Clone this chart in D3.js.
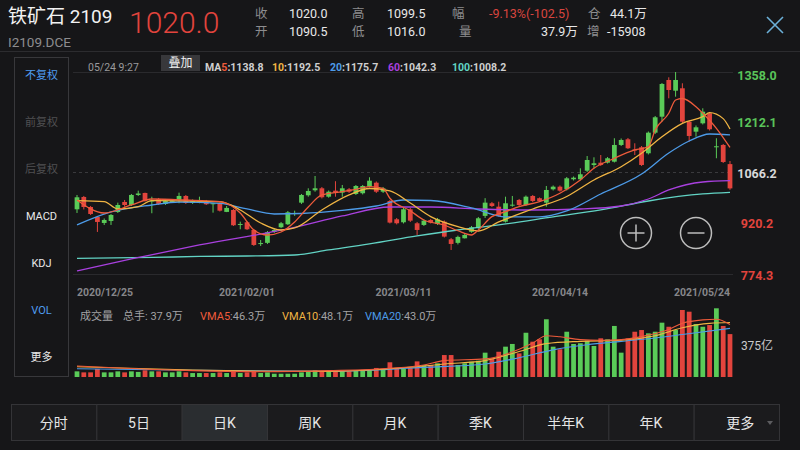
<!DOCTYPE html>
<html lang="zh-CN">
<head>
<meta charset="UTF-8">
<title>铁矿石2109 日K</title>
<script src="https://d3js.org/d3.v7.min.js"></script>
<style>
  body { margin: 0; background: #161618; }
  svg { display: block; font-family: Roboto, "Noto Sans CJK SC", sans-serif; }
</style>
</head>
<body>
<svg id="chart" width="800" height="450"></svg>
<script>
// 交易日
const dates = [
  "2020/12/25","2020/12/28","2020/12/29","2020/12/30","2020/12/31",
  "2021/01/04","2021/01/05","2021/01/06","2021/01/07","2021/01/08",
  "2021/01/11","2021/01/12","2021/01/13","2021/01/14","2021/01/15",
  "2021/01/18","2021/01/19","2021/01/20","2021/01/21","2021/01/22",
  "2021/01/25","2021/01/26","2021/01/27","2021/01/28","2021/01/29",
  "2021/02/01","2021/02/02","2021/02/03","2021/02/04","2021/02/05",
  "2021/02/08","2021/02/09","2021/02/10","2021/02/18","2021/02/19",
  "2021/02/22","2021/02/23","2021/02/24","2021/02/25","2021/02/26",
  "2021/03/01","2021/03/02","2021/03/03","2021/03/04","2021/03/05",
  "2021/03/08","2021/03/09","2021/03/10","2021/03/11","2021/03/12",
  "2021/03/15","2021/03/16","2021/03/17","2021/03/18","2021/03/19",
  "2021/03/22","2021/03/23","2021/03/24","2021/03/25","2021/03/26",
  "2021/03/29","2021/03/30","2021/03/31","2021/04/01","2021/04/02",
  "2021/04/06","2021/04/07","2021/04/08","2021/04/09",
  "2021/04/12","2021/04/13","2021/04/14","2021/04/15","2021/04/16",
  "2021/04/19","2021/04/20","2021/04/21","2021/04/22","2021/04/23",
  "2021/04/26","2021/04/27","2021/04/28","2021/04/29","2021/04/30",
  "2021/05/06","2021/05/07",
  "2021/05/10","2021/05/11","2021/05/12","2021/05/13","2021/05/14",
  "2021/05/17","2021/05/18","2021/05/19","2021/05/20","2021/05/21",
  "2021/05/24"
];

const open = [959.3,995.1,966.0,937.0,919.6,925.4,951.5,980.6,971.8,1000.9,
  1006.7,982.0,989.3,974.8,980.6,986.4,998.0,977.6,980.6,981.4,
  974.8,976.8,951.7,957.3,913.8,921.6,899.3,858.3,861.8,893.5,
  907.1,915.8,945.7,978.6,1000.0,1014.5,1020.3,995.9,1013.4,1007.6,
  1017.4,1003.8,1005.9,1025.0,1036.6,1010.4,983.5,930.3,921.6,959.3,
  918.7,913.8,928.3,916.7,923.4,872.2,861.8,875.1,893.8,905.2,
  940.2,976.8,966.9,923.4,970.3,986.4,971.8,998.0,991.5,978.6,
  1017.4,1025.0,1017.4,1046.5,1046.5,1071.4,1088.0,1094.7,1094.7,1097.6,
  1146.1,1162.6,1133.0,1139.4,1122.0,1181.8,1228.2,1334.8,1303.7,1310.7,
  1213.7,1184.7,1209.0,1238.1,1139.4,1146.1,1090.5];
const high = [1000.9,998.0,968.9,939.9,932.7,945.7,978.6,986.4,1003.8,1013.4,
  1007.6,995.9,992.2,989.3,987.8,1007.6,1000.9,987.8,995.9,986.4,
  977.6,979.2,968.9,960.2,923.4,925.4,902.2,870.2,896.2,902.2,
  922.5,954.4,955.3,1003.8,1020.3,1056.0,1024.1,1013.9,1040.8,1029.9,
  1021.2,1029.9,1029.9,1052.3,1040.1,1024.1,986.4,934.1,963.1,963.1,
  922.5,929.8,931.2,934.1,926.9,876.0,882.8,887.7,910.9,937.0,
  991.6,980.6,981.4,995.9,998.0,989.3,999.4,1000.9,993.7,1027.0,
  1028.5,1028.5,1053.1,1054.6,1078.4,1114.1,1110.3,1117.0,1111.2,1165.6,
  1165.0,1166.4,1151.0,1143.1,1185.2,1230.2,1326.1,1342.6,1358.0,1325.2,
  1217.2,1202.7,1252.6,1241.9,1165.6,1148.9,1099.5];
const low = [948.6,958.8,942.8,893.5,913.8,913.8,948.6,966.9,968.9,998.0,
  981.4,947.8,971.8,971.8,977.6,976.8,974.8,974.8,976.8,971.8,
  949.5,952.9,951.1,910.9,901.3,899.3,852.8,852.8,858.6,890.6,
  904.6,913.8,940.2,974.8,995.9,1010.4,990.7,993.0,995.9,995.9,
  1006.7,1000.9,1002.4,1022.7,1006.7,1006.7,918.1,915.3,918.1,922.5,
  884.8,910.9,918.1,913.8,877.5,841.2,857.2,874.6,891.3,902.2,
  934.1,966.0,937.8,920.9,966.9,968.9,968.9,980.6,980.6,966.9,
  1013.9,1010.4,1013.9,1043.0,1043.0,1067.6,1078.4,1085.1,1092.3,1095.2,
  1143.1,1134.4,1117.0,1085.1,1118.5,1178.0,1213.7,1281.6,1286.3,1209.9,
  1155.6,1170.1,1205.6,1188.1,1107.5,1093.8,1016.0];
const close = [994.2,966.0,945.7,922.5,928.3,942.8,971.8,971.8,1000.9,1005.2,
  983.5,984.9,974.8,983.5,984.4,998.0,977.6,983.5,982.0,973.9,
  976.8,955.3,963.3,912.9,916.7,901.3,855.7,861.2,892.8,899.3,
  918.7,950.6,948.6,1000.9,1012.5,1020.3,994.2,1010.4,1007.6,1020.3,
  1010.4,1027.0,1027.0,1042.4,1010.4,1020.3,920.7,918.7,959.3,926.3,
  899.3,926.3,920.7,930.3,880.0,858.6,879.1,884.8,907.1,933.2,
  978.6,968.9,940.2,976.8,972.7,971.8,995.9,983.5,983.5,1015.4,
  1025.0,1013.4,1049.3,1051.1,1061.0,1102.5,1092.9,1088.0,1107.5,1146.1,
  1160.6,1136.5,1130.1,1088.0,1181.8,1226.5,1323.2,1305.7,1334.8,1213.7,
  1172.2,1197.4,1242.7,1191.6,1142.3,1096.7,1020.0];

// 成交量（万手）
const volume = [5.0,4.1,4.1,7.1,4.1,4.1,5.0,4.1,5.0,4.5,
  5.9,5.0,5.0,4.1,4.1,5.0,4.1,3.5,3.5,3.5,
  3.5,4.1,3.5,5.0,3.5,4.1,5.0,3.5,4.1,2.9,
  2.9,2.9,2.9,4.1,5.0,5.9,5.0,5.0,5.0,5.0,
  5.0,5.9,5.9,5.9,8.0,6.5,13.0,8.0,7.1,8.0,
  13.8,10.6,10.6,12.1,19.4,19.4,10.6,12.1,13.5,14.4,
  21.5,16.5,22.3,26.8,29.2,20.9,39.1,31.2,33.3,51.0,
  26.8,24.5,40.0,29.2,29.8,32.1,27.4,34.2,33.3,45.1,
  21.5,34.2,40.0,41.5,38.6,40.0,48.0,44.4,41.5,59.2,
  57.7,46.8,44.4,45.9,60.7,45.1,37.9];

// 均线 [交易日序号, 数值]
const ma5 = [[0,986.3],[4,948.6],[8,972],[11,989.2],[16,986.3],[21,981.4],[24,948.6],[26,899.2],
  [28,884.7],[30,893.4],[32,922.5],[34,966],[36,1000.9],[39,1010.4],[41,1017.4],[43,1025],
  [45,1020.3],[46,991.3],[49,955],[51,928.3],[54,913.7],[56,897],[58,884.7],[59,899.2],
  [61,937.9],[63,952.4],[65,966.9],[68,981.4],[71,1005.8],[74,1044.4],[76,1078.4],[79,1107.4],
  [82,1131.5],[84,1141.1],[85,1189.6],[87,1238.1],[88,1276.7],[89,1281.1],[91,1257.2],[92,1238.1],
  [94,1194.5],[96,1138.8]];
const ma10 = [[0,984.3],[4,981.4],[6,960.2],[9,966.9],[11,984.3],[21,981.4],[24,957.3],[27,919.6],
  [30,899.2],[32,905],[36,957.3],[40,1000.9],[43,1019.7],[46,1012.5],[49,977.6],[52,937.9],
  [56,908.8],[59,896.3],[62,922.5],[67,960.2],[72,996.5],[76,1044.4],[80,1083],[83,1121.9],
  [86,1170.1],[89,1209],[92,1228.2],[93,1239.8],[95,1222.6],[96,1192.5]];
const ma20 = [[0,913.8],[5,951.5],[11,971.8],[15,980.5],[21,976.2],[25,960.2],[29,945.7],[33,947.1],
  [39,955.9],[44,968.9],[48,986.3],[52,984.9],[58,963.1],[63,937],[68,937],[72,954.4],
  [77,1003.8],[83,1061.8],[87,1122.8],[90,1157.7],[93,1178],[96,1175.7]];
const ma60 = [[0,780.2],[8,815],[18,855.7],[32,906.5],[39,939.9],[46,966],[52,966],[59,960.2],
  [67,957.3],[74,960.2],[80,968.9],[84,989.2],[87,1015.4],[92,1038.6],[96,1042.3]];
const ma100 = [[0,816.5],[11,819.4],[18,822.3],[25,823.7],[32,826.6],[37,841.2],[43,858.6],[50,881.8],
  [56,899.2],[62,913.8],[70,937],[77,957.3],[84,983.4],[92,1003.8],[96,1008.2]];

const vma5 = [[0,9.7],[7,7.7],[17,5.6],[27,4.7],[37,5.6],[46,7.7],[51,10.6],[54,14.5],[60,16],
  [65,24.5],[67,30],[69,36.5],[71,35.5],[74,33],[77,32.5],[80,33],[84,37],[87,42],[89,47.5],
  [92,50.5],[94,51],[96,46.3]];
const vma10 = [[0,9.1],[17,6.2],[37,5.0],[51,9.7],[54,11.5],[60,14.5],[65,22.5],[69,29.5],[74,31.5],
  [80,32.5],[85,36.5],[89,43.5],[93,47.4],[96,48.1]];
const vma20 = [[0,7.3],[17,5.9],[37,5.0],[51,8.5],[60,11.5],[65,17.0],[70,24.0],[75,28.5],[80,31.5],
  [85,34.5],[89,37.5],[96,43.0]];

const priceTicks = [1358.0, 1212.1, 1066.2, 920.2, 774.3];
const dateTicks = ["2020/12/25", "2021/02/01", "2021/03/11", "2021/04/14", "2021/05/24"];
const sideItems = ["不复权", "前复权", "后复权", "MACD", "KDJ", "VOL", "更多"];
const tabs = ["分时", "5日", "日K", "周K", "月K", "季K", "半年K", "年K", "更多"];

const UP = "#5acb58", DOWN = "#e2443d";
const GREY = "#8d8d8f", WHITE = "#e8e8e8";

const svg = d3.select("#chart");

// ---- 顶部行情 ----
const head = svg.append("g");
head.append("text").attr("x", 8).attr("y", 23).attr("fill", "#f2f2f2")
  .style("font-size", "19px").text("铁矿石 2109");
head.append("text").attr("x", 8).attr("y", 46.5).attr("fill", GREY)
  .style("font-size", "13.5px").text("I2109.DCE");
head.append("text").attr("x", 129).attr("y", 33).attr("fill", DOWN)
  .style("font-size", "30px").style("font-weight", 300).text("1020.0");

const quote = [
  ["收", 255, 18, "1020.0", 289, WHITE], ["高", 352, 18, "1099.5", 387, WHITE],
  ["幅", 452, 18, "-9.13%(-102.5)", 489, "#d8453f"], ["仓", 588, 18, "44.1万", 610, WHITE],
  ["开", 255, 36, "1090.5", 289, WHITE], ["低", 352, 36, "1016.0", 387, WHITE],
  ["量", 459, 36, "37.9万", 541, WHITE], ["增", 587, 36, "-15908", 607, WHITE]
];
quote.forEach(([lab, lx, ly, val, vx, col]) => {
  head.append("text").attr("x", lx).attr("y", ly).attr("fill", GREY).style("font-size", "12.5px").text(lab);
  head.append("text").attr("x", vx).attr("y", ly).attr("fill", col).style("font-size", "12.5px").text(val);
});

// 关闭按钮
head.append("path").attr("d", "M767,17L783,33M783,17L767,33")
  .attr("stroke", "#6cb0d8").attr("stroke-width", 1.6).attr("fill", "none");

svg.append("line").attr("x1", 0).attr("x2", 800).attr("y1", 51.5).attr("y2", 51.5)
  .attr("stroke", "#2c2c2f");

// ---- 左侧菜单 ----
svg.append("rect").attr("x", 14.5).attr("y", 57.5).attr("width", 54).attr("height", 319)
  .attr("fill", "none").attr("stroke", "#38383b");
svg.append("g").selectAll("text").data(sideItems).join("text")
  .attr("x", 41.5).attr("y", (d, i) => 75 + i * 47)
  .attr("text-anchor", "middle").attr("dominant-baseline", "central")
  .style("font-size", "11px")
  .attr("fill", (d, i) => (i === 0 || i === 5) ? "#4f9cf0" : (i < 3 ? "#505052" : WHITE))
  .text(d => d);

// ---- 主图 ----
const x = d3.scaleBand().domain(dates).range([73.6, 733.4]).paddingInner(0.3).paddingOuter(0.15);
const cx = i => x(dates[i]) + x.bandwidth() / 2;
const y = d3.scaleLinear().domain([774.3, 1358]).range([273, 72]);

svg.append("line").attr("x1", 73).attr("x2", 733).attr("y1", 72.5).attr("y2", 72.5).attr("stroke", "#2a2a2d");
svg.append("line").attr("x1", 73).attr("x2", 733).attr("y1", Math.round(y(1066.2)) + 0.5).attr("y2", Math.round(y(1066.2)) + 0.5)
  .attr("stroke", "#3a3a3d").attr("stroke-dasharray", "3,3");
svg.append("line").attr("x1", 73).attr("x2", 733).attr("y1", 274.5).attr("y2", 274.5).attr("stroke", "#2a2a2d");

// 信息栏
svg.append("text").attr("x", 88).attr("y", 70.5).attr("fill", "#9a9a9c")
  .style("font-size", "10.5px").text("05/24 9:27");
svg.append("rect").attr("x", 161).attr("y", 55).attr("width", 39).attr("height", 16).attr("fill", "#38383b");
svg.append("text").attr("x", 180.5).attr("y", 63).attr("text-anchor", "middle").attr("dominant-baseline", "central")
  .attr("fill", "#f0f0f0").style("font-size", "12px").text("叠加");

const maLegend = [
  [205, "MA", "5", ":1138.8", "#ee5b3b"], [272, "", "10", ":1192.5", "#f0b443"],
  [330, "", "20", ":1175.7", "#4d9be8"], [388, "", "60", ":1042.3", "#a940df"],
  [452, "", "100", ":1008.2", "#62d3c4"]
];
maLegend.forEach(([lx, pre, num, val, col]) => {
  const t = svg.append("text").attr("x", lx).attr("y", 70.5)
    .style("font-size", "10.5px").style("font-weight", "bold").attr("fill", "#cfcfcf");
  if (pre) t.append("tspan").text(pre);
  t.append("tspan").attr("fill", col).text(num);
  t.append("tspan").text(val);
});

// K线
const candles = svg.append("g");
candles.selectAll("line").data(dates).join("line")
  .attr("x1", (d, i) => cx(i)).attr("x2", (d, i) => cx(i))
  .attr("y1", (d, i) => y(high[i])).attr("y2", (d, i) => y(low[i]))
  .attr("stroke", (d, i) => close[i] >= open[i] ? UP : DOWN).attr("stroke-width", 1);
candles.selectAll("rect").data(dates).join("rect")
  .attr("x", d => x(d)).attr("width", x.bandwidth())
  .attr("y", (d, i) => y(Math.max(open[i], close[i])))
  .attr("height", (d, i) => Math.max(1, Math.abs(y(open[i]) - y(close[i]))))
  .attr("fill", (d, i) => close[i] >= open[i] ? UP : DOWN);

// 均线
const maLine = d3.line().x(d => cx(d[0])).y(d => y(d[1])).curve(d3.curveMonotoneX);
[[ma100, "#62d3c4"], [ma60, "#a940df"], [ma20, "#4d9be8"], [ma10, "#f0b443"], [ma5, "#ee5b3b"]]
  .forEach(([data, col]) => {
    svg.append("path").datum(data).attr("d", maLine)
      .attr("fill", "none").attr("stroke", col).attr("stroke-width", 1.3);
  });

// 价格轴
const yAxis = svg.append("g").attr("transform", "translate(757,0)")
  .call(d3.axisRight(y).tickValues(priceTicks).tickSize(0).tickPadding(0).tickFormat(d3.format(".1f")));
yAxis.select(".domain").remove();
yAxis.selectAll("text")
  .attr("text-anchor", "middle")
  .attr("dy", d => d === 1358.0 ? "0.62em" : (d === 774.3 ? "0.52em" : "0.38em"))
  .attr("fill", d => d > 1066.2 ? "#5ac45a" : (d < 1066.2 ? "#e2443d" : "#d8d8d8"))
  .style("font-size", "12.5px").style("font-weight", "bold").style("font-family", "Roboto, sans-serif");

// 日期轴
const xAxis = svg.append("g").attr("transform", "translate(0,289)")
  .call(d3.axisBottom(x).tickValues(dateTicks).tickSize(0).tickPadding(0));
xAxis.select(".domain").remove();
xAxis.selectAll("text")
  .attr("fill", "#86868a").style("font-size", "10.5px").style("font-weight", "bold")
  .style("font-family", "Roboto, sans-serif")
  .attr("text-anchor", (d, i) => i === 0 ? "start" : (i === dateTicks.length - 1 ? "end" : "middle"));

// 缩放按钮
[[636, "M627.5,233H644.5M636,224.5V241.5"], [696, "M687.5,233H704.5"]].forEach(([bx, p]) => {
  svg.append("circle").attr("cx", bx).attr("cy", 233).attr("r", 15.5)
    .attr("fill", "none").attr("stroke", "#bdbdbd").attr("stroke-width", 1.5);
  svg.append("path").attr("d", p).attr("stroke", "#bdbdbd").attr("stroke-width", 1.5);
});

// ---- 成交量 ----
const vy = d3.scaleLinear().domain([0, 60.7]).range([377, 308.3]);
const volText = svg.append("text").attr("x", 80).attr("y", 320)
  .style("font-size", "11px").attr("fill", "#a2a2a4");
volText.append("tspan").text("成交量");
volText.append("tspan").attr("x", 123).text("总手: 37.9万");
[[200, "VMA5", ":46.3万", "#ee5b3b"], [282, "VMA10", ":48.1万", "#f0b443"], [365, "VMA20", ":43.0万", "#4d9be8"]]
  .forEach(([lx, lab, val, col]) => {
    volText.append("tspan").attr("x", lx).attr("fill", col).text(lab);
    volText.append("tspan").text(val);
  });

svg.append("g").selectAll("rect").data(dates).join("rect")
  .attr("x", d => x(d)).attr("width", x.bandwidth())
  .attr("y", (d, i) => vy(volume[i]))
  .attr("height", (d, i) => vy(0) - vy(volume[i]))
  .attr("fill", (d, i) => close[i] >= open[i] ? UP : DOWN);

const vLine = d3.line().x(d => cx(d[0])).y(d => vy(d[1])).curve(d3.curveMonotoneX);
[[vma20, "#4d9be8"], [vma10, "#f0b443"], [vma5, "#ee5b3b"]].forEach(([data, col]) => {
  svg.append("path").datum(data).attr("d", vLine)
    .attr("fill", "none").attr("stroke", col).attr("stroke-width", 1.1);
});

svg.append("text").attr("x", 757).attr("y", 349.5).attr("text-anchor", "middle")
  .attr("fill", "#c9c9cb").style("font-size", "12px").text("375亿");

// ---- 底部周期切换 ----
const tx = d3.scaleBand().domain(tabs).range([11, 779]);
const tabG = svg.append("g");
tabG.selectAll("rect").data(tabs).join("rect")
  .attr("x", d => tx(d) + 0.5).attr("y", 404.5).attr("width", tx.bandwidth()).attr("height", 36)
  .attr("fill", d => d === "日K" ? "#2a2d30" : "#1b1b1d").attr("stroke", "#343437");
tabG.selectAll("text").data(tabs).join("text")
  .attr("x", d => tx(d) + tx.bandwidth() / 2 + (d === "更多" ? 4 : 0)).attr("y", 423)
  .attr("text-anchor", "middle").attr("dominant-baseline", "central")
  .attr("fill", "#e6e6e6").style("font-size", "14px").text(d => d);
tabG.append("path").attr("d", "M767,421L773,421L770,425Z").attr("fill", "#5c5c5f");
</script>
</body>
</html>
